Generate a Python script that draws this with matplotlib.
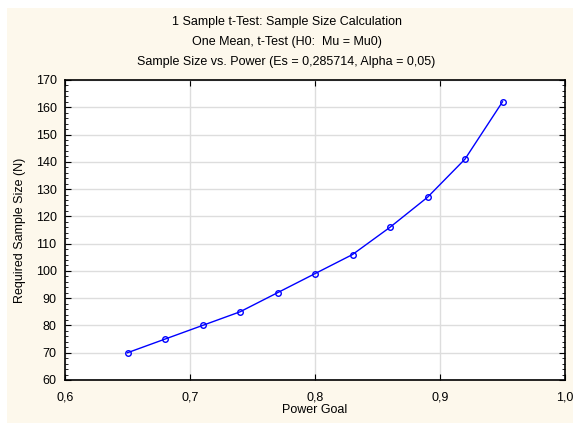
import matplotlib
matplotlib.use("Agg")
import matplotlib.pyplot as plt
from matplotlib.patches import Rectangle
from matplotlib.ticker import MultipleLocator, FuncFormatter

# power goal vs required sample size
power = [0.65, 0.68, 0.71, 0.74, 0.77, 0.80, 0.83, 0.86, 0.89, 0.92, 0.95]
sample_n = [70, 75, 80, 85, 92, 99, 106, 116, 127, 141, 162]

plt.rcParams['font.family'] = ['Liberation Sans', 'DejaVu Sans']
plt.rcParams['font.size'] = 9

fig = plt.figure(figsize=(5.73, 4.25), dpi=100, facecolor='white')
fig.patches.append(Rectangle((7 / 573, 0.005), 1, 1 - 8 / 425 - 0.005,
                             transform=fig.transFigure, facecolor='#FDF8EC',
                             edgecolor='none', zorder=-10))

ax = fig.add_axes([65 / 573, 45 / 425, 500 / 573, 300 / 425])
ax.set_facecolor('white')
ax.plot(power, sample_n, color='#0000FF', lw=1, marker='o', ms=4,
        mfc='none', mec='#0000FF', mew=1)

ax.set_xlim(0.6, 1.0)
ax.set_ylim(60, 170)
ax.xaxis.set_major_locator(MultipleLocator(0.1))
ax.yaxis.set_major_locator(MultipleLocator(10))
ax.yaxis.set_minor_locator(MultipleLocator(2))
comma = FuncFormatter(lambda v, p: ('%.1f' % v).replace('.', ','))
ax.xaxis.set_major_formatter(comma)
ax.yaxis.set_major_formatter(FuncFormatter(lambda v, p: '%d' % v))

ax.grid(True, color='#DDDDDD', lw=1)
ax.set_axisbelow(True)
ax.tick_params(which='both', direction='in', top=True, right=True,
               color='black', labelsize=9)
ax.tick_params(which='major', length=4)
ax.tick_params(which='minor', length=2)
ax.tick_params(axis='x', pad=8)
ax.tick_params(axis='y', pad=6)
for s in ax.spines.values():
    s.set_linewidth(1.2)

ax.set_xlabel('Power Goal', va='center')
ax.xaxis.set_label_coords(0.5, -30 / 300)
ax.set_ylabel('Required Sample Size (N)', va='center')
ax.yaxis.set_label_coords(-45 / 500, 0.5)

fig.text(0.5, 1 - 22 / 425, '1 Sample t-Test: Sample Size Calculation', ha='center', va='center')
fig.text(0.5, 1 - 42 / 425, 'One Mean, t-Test (H0:  Mu = Mu0)', ha='center', va='center')
fig.text(0.5, 1 - 62 / 425, 'Sample Size vs. Power (Es = 0,285714, Alpha = 0,05)', ha='center', va='center')

fig.savefig('out.png', dpi=100, facecolor=fig.get_facecolor())
